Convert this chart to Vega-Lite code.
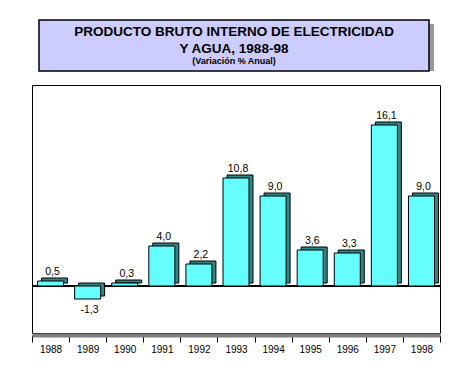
{
  "$schema": "https://vega.github.io/schema/vega-lite/v6.json",
  "background": "white",
  "padding": {"left": 31, "top": 19, "right": 28, "bottom": 10},
  "config": {
    "locale": {"number": {"decimal": ",", "thousands": ".", "grouping": [3], "currency": ["", " €"], "minus": "-"}},
    "font": "Liberation Sans"
  },
  "datasets": {
    "pib": [
      {"anio": "1988", "variacion": 0.5},
      {"anio": "1989", "variacion": -1.3},
      {"anio": "1990", "variacion": 0.3},
      {"anio": "1991", "variacion": 4.0},
      {"anio": "1992", "variacion": 2.2},
      {"anio": "1993", "variacion": 10.8},
      {"anio": "1994", "variacion": 9.0},
      {"anio": "1995", "variacion": 3.6},
      {"anio": "1996", "variacion": 3.3},
      {"anio": "1997", "variacion": 16.1},
      {"anio": "1998", "variacion": 9.0}
    ]
  },
  "vconcat": [
    {
      "width": 390,
      "height": 51,
      "view": {"stroke": null},
      "data": {"values": [{}]},
      "title": {
        "text": ["PRODUCTO BRUTO INTERNO DE ELECTRICIDAD", "Y AGUA, 1988-98"],
        "subtitle": "(Variación % Anual)",
        "offset": -47,
        "anchor": "middle",
        "font": "Liberation Sans",
        "fontSize": 13.5,
        "fontWeight": "bold",
        "lineHeight": 17,
        "color": "black",
        "subtitleFont": "Liberation Sans",
        "subtitleFontSize": 9,
        "subtitleFontWeight": "bold",
        "subtitleColor": "black",
        "subtitlePadding": 2
      },
      "layer": [
        {"mark": {"type": "rect", "fill": "#999999", "xOffset": 5, "yOffset": 4}, "encoding": {}},
        {"mark": {"type": "rect", "fill": "#ccccff", "stroke": "black", "strokeWidth": 1.5}, "encoding": {}}
      ]
    },
    {
      "width": 408,
      "height": 248,
      "view": {"stroke": "black", "strokeWidth": 1, "fill": "white"},
      "data": {"name": "pib"},
      "encoding": {
        "x": {
          "field": "anio",
          "type": "ordinal",
          "scale": {"paddingInner": 0, "paddingOuter": 0},
          "axis": {
            "title": null,
            "labelAngle": 0,
            "tickBand": "extent",
            "domainColor": "#808080",
            "domainWidth": 4,
            "offset": 2,
            "tickColor": "black",
            "tickSize": 7,
            "labelFont": "Liberation Sans",
            "labelFontSize": 10,
            "labelColor": "black",
            "labelPadding": 2
          }
        }
      },
      "layer": [
        {
          "mark": {"type": "rule", "color": "black", "strokeWidth": 1},
          "encoding": {"x": null, "y": {"datum": 0, "type": "quantitative", "scale": {"domain": [-4.7, 20.1], "nice": false, "zero": false}, "axis": null}}
        },
        {
          "mark": {"type": "bar", "size": 26, "fill": "#358585", "stroke": "black", "strokeWidth": 1, "xOffset": 4, "yOffset": -3},
          "encoding": {"y": {"field": "variacion", "type": "quantitative", "scale": {"domain": [-4.7, 20.1], "nice": false, "zero": false}, "axis": null}}
        },
        {
          "mark": {"type": "bar", "size": 26, "fill": "#66ffff", "stroke": "black", "strokeWidth": 1},
          "encoding": {"y": {"field": "variacion", "type": "quantitative"}}
        },
        {
          "transform": [{"filter": "datum.variacion >= 0"}],
          "mark": {"type": "text", "font": "Liberation Sans", "fontSize": 10.5, "color": "black", "baseline": "alphabetic", "dy": -6, "dx": 2},
          "encoding": {"y": {"field": "variacion", "type": "quantitative"}, "text": {"field": "variacion", "type": "quantitative", "format": ".1f"}}
        },
        {
          "transform": [{"filter": "datum.variacion < 0"}],
          "mark": {"type": "text", "font": "Liberation Sans", "fontSize": 10.5, "color": "black", "baseline": "alphabetic", "dy": 14, "dx": 2},
          "encoding": {"y": {"field": "variacion", "type": "quantitative"}, "text": {"field": "variacion", "type": "quantitative", "format": ".1f"}}
        }
      ]
    }
  ],
  "spacing": 12,
  "center": true
}
